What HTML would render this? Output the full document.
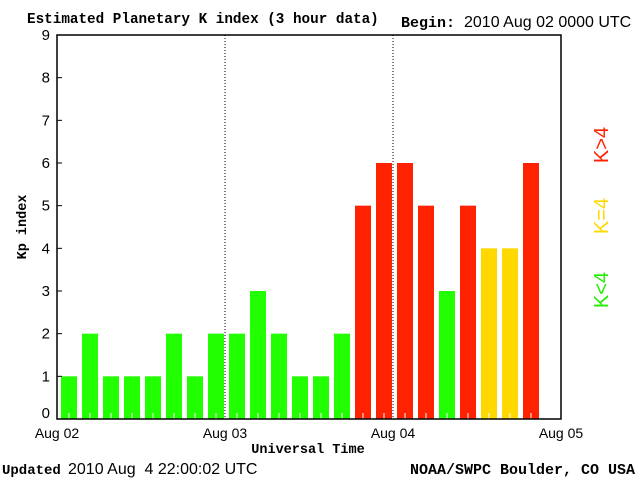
<!DOCTYPE html>
<html><head><meta charset="utf-8"><style>
body{margin:0;background:#fff;width:640px;height:480px;overflow:hidden}
svg text{font-family:"Liberation Sans",sans-serif;font-size:13px;fill:#000}
svg text.b{font-family:"Liberation Mono",monospace;font-weight:bold}
</style></head><body>
<svg id="c" width="640" height="480" xmlns="http://www.w3.org/2000/svg">
<text class="b" x="27" y="23" style="font-size:14.3px">Estimated Planetary K index (3 hour data)</text>
<text class="b" x="401" y="27" style="font-size:15px">Begin:</text>
<text x="464" y="27" style="font-size:16px">2010 Aug 02 0000 UTC</text>
<text class="b" x="2" y="474" style="font-size:14px">Updated</text>
<text x="68" y="474" style="font-size:16px;white-space:pre" xml:space="preserve">2010 Aug  4 22:00:02 UTC</text>
<text class="b" x="410" y="474" style="font-size:15px">NOAA/SWPC Boulder, CO USA</text>
<text class="b" x="308" y="453" text-anchor="middle" style="font-size:13.5px">Universal Time</text>
<text class="b" x="26" y="227" text-anchor="middle" style="font-size:13.5px" transform="rotate(-90 26 227)">Kp index</text>
<text x="608" y="145" text-anchor="middle" style="font-size:20px;fill:#ff2200" transform="rotate(-90 608 145)">K&gt;4</text>
<text x="608" y="216" text-anchor="middle" style="font-size:20px;fill:#ffd800" transform="rotate(-90 608 216)">K=4</text>
<text x="608" y="290" text-anchor="middle" style="font-size:20px;fill:#22ee00" transform="rotate(-90 608 290)">K&lt;4</text>
<g id="plot"></g>
</svg>
<script>
const values=[1,2,1,1,1,2,1,2,2,3,2,1,1,2,5,6,6,5,3,5,4,4,6];
const yTicks=[0,1,2,3,4,5,6,7,8,9];
const dayLabels=["Aug 02","Aug 03","Aug 04","Aug 05"];
const X0=57,X1=561,Y0=419,Y1=35;
const xs=i=>X0+i*(X1-X0)/24;
const ys=v=>Y0-v*(Y0-Y1)/9;
const NS="http://www.w3.org/2000/svg";
const g=document.getElementById('plot');
function mk(t,a){const e=document.createElementNS(NS,t);for(const k in a)e.setAttribute(k,a[k]);g.appendChild(e);return e;}
values.forEach((v,i)=>{
  const col=v>4?'#ff2200':(v==4?'#ffd800':'#22ff00');
  const r=mk('rect',{x:xs(i)+4,y:ys(v),width:16,height:Y0-ys(v),fill:col});
  
  
  const t=mk('line',{x1:xs(i)+12,x2:xs(i)+12,y1:Y0,y2:Y0-6,stroke:'#fff'});
  
  
});
[1,2].forEach(d=>{
  const l=mk('line',{x1:xs(d*8),x2:xs(d*8),y1:Y1,y2:Y0,stroke:'#000','stroke-dasharray':'1,2'});
  
  
});
const box=mk('rect',{x:X0,y:Y1,width:X1-X0,height:Y0-Y1,fill:'none',stroke:'#000','stroke-width':1.5});


yTicks.forEach(v=>{
  const l=mk('line',{x1:X0,x2:X0+5,y1:ys(v),y2:ys(v),stroke:'#000'});
  
  
  const t=mk('text',{x:50,y:ys(v)+(v==0?-1:5),'text-anchor':'end',style:'font-size:15px'});
  t.textContent=v;
  
  
});
dayLabels.forEach((d,i)=>{
  const t=mk('text',{x:xs(i*8),y:438,'text-anchor':'middle',style:'font-size:14px'});
  t.textContent=d;
  
  
});
</script>
</body></html>
